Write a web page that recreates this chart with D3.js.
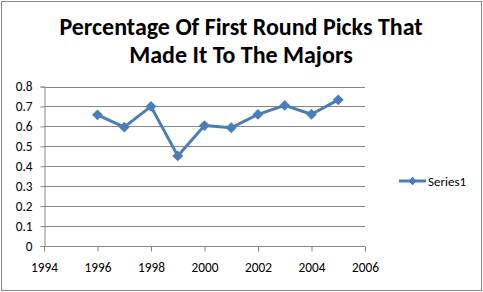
<!DOCTYPE html>
<html>
<head>
<meta charset="utf-8">
<script src="https://cdn.jsdelivr.net/npm/d3@7"></script>
<style>
  body { margin: 0; background: #fff; }
  text { font-family: Carlito, 'Open Sans', sans-serif; }
  .tick text { font-size: 13.3px; fill: #000; }
  .title { font-size: 24px; font-weight: bold; }
</style>
</head>
<body>
<svg width="483" height="292"></svg>
<script>
const years = [1996, 1997, 1998, 1999, 2000, 2001, 2002, 2003, 2004, 2005]
const values = [0.658, 0.596, 0.70, 0.452, 0.604, 0.593, 0.66, 0.705, 0.661, 0.733]
const xTicks = [1994, 1996, 1998, 2000, 2002, 2004, 2006]
const yTicks = [0, 0.1, 0.2, 0.3, 0.4, 0.5, 0.6, 0.7, 0.8]
const titleLines = ['Percentage Of First Round Picks That', 'Made It To The Majors']
const seriesName = 'Series1'

const svg = d3.select('svg')
const width = +svg.attr('width')
const height = +svg.attr('height')
const color = '#4a7ebb'

// chart frame
svg.append('rect')
  .attr('x', 1.5).attr('y', 1.5)
  .attr('width', width - 3).attr('height', height - 3)
  .attr('fill', '#fff')
  .attr('stroke', '#888')

const plot = { left: 44, top: 86.5, right: 365, bottom: 246 }

const x = d3.scaleLinear().domain([1994, 2006]).range([plot.left, plot.right])
const y = d3.scaleLinear().domain([0, 0.8]).range([plot.bottom, plot.top])

// gridlines
svg.append('g')
  .selectAll('line')
  .data(yTicks.slice(1))
  .join('line')
  .attr('x1', plot.left).attr('x2', plot.right)
  .attr('y1', d => Math.round(y(d)) + 0.5).attr('y2', d => Math.round(y(d)) + 0.5)
  .attr('stroke', '#868686')

const yAxis = d3.axisLeft(y)
  .tickValues(yTicks)
  .tickFormat(d => d === 0 ? '0' : d3.format('.1f')(d))
  .tickSize(4)
  .tickPadding(8)

const yG = svg.append('g')
  .attr('transform', `translate(${plot.left + 0.5},0)`)
  .call(yAxis)
yG.select('.domain').attr('stroke', '#868686')
yG.selectAll('.tick line').attr('stroke', '#868686')

const xAxis = d3.axisBottom(x)
  .tickValues(xTicks)
  .tickFormat(d3.format('d'))
  .tickSize(5)
  .tickPadding(11)

const xG = svg.append('g')
  .attr('transform', `translate(0,${Math.round(plot.bottom) + 0.5})`)
  .call(xAxis)
xG.select('.domain').attr('stroke', '#868686').attr('d', `M${plot.left},0H${plot.right}`)
xG.selectAll('.tick line').attr('stroke', '#868686')

const data = years.map((yr, i) => ({ year: yr, value: values[i] }))

const line = d3.line()
  .x(d => x(d.year))
  .y(d => y(d.value))

svg.append('path')
  .attr('d', line(data))
  .attr('fill', 'none')
  .attr('stroke', color)
  .attr('stroke-width', 3)
  .attr('stroke-linejoin', 'round')

const diamond = d3.symbol().type(d3.symbolDiamond2).size(75)

svg.append('g')
  .selectAll('path')
  .data(data)
  .join('path')
  .attr('transform', d => `translate(${x(d.year)},${y(d.value)})`)
  .attr('d', diamond)
  .attr('fill', color)

// title
svg.append('text')
  .attr('class', 'title')
  .attr('text-anchor', 'middle')
  .selectAll('tspan')
  .data(titleLines)
  .join('tspan')
  .attr('x', 241)
  .attr('y', (d, i) => 35 + i * 28)
  .text(d => d)

// legend
const lg = svg.append('g').attr('transform', 'translate(399,181)')
lg.append('line')
  .attr('x1', 0).attr('x2', 27)
  .attr('stroke', color).attr('stroke-width', 3)
lg.append('path')
  .attr('transform', 'translate(13.5,0)')
  .attr('d', d3.symbol().type(d3.symbolDiamond2).size(45))
  .attr('fill', color)
lg.append('text')
  .attr('x', 29).attr('y', 4.5)
  .attr('font-size', 13)
  .text(seriesName)
</script>
</body>
</html>
